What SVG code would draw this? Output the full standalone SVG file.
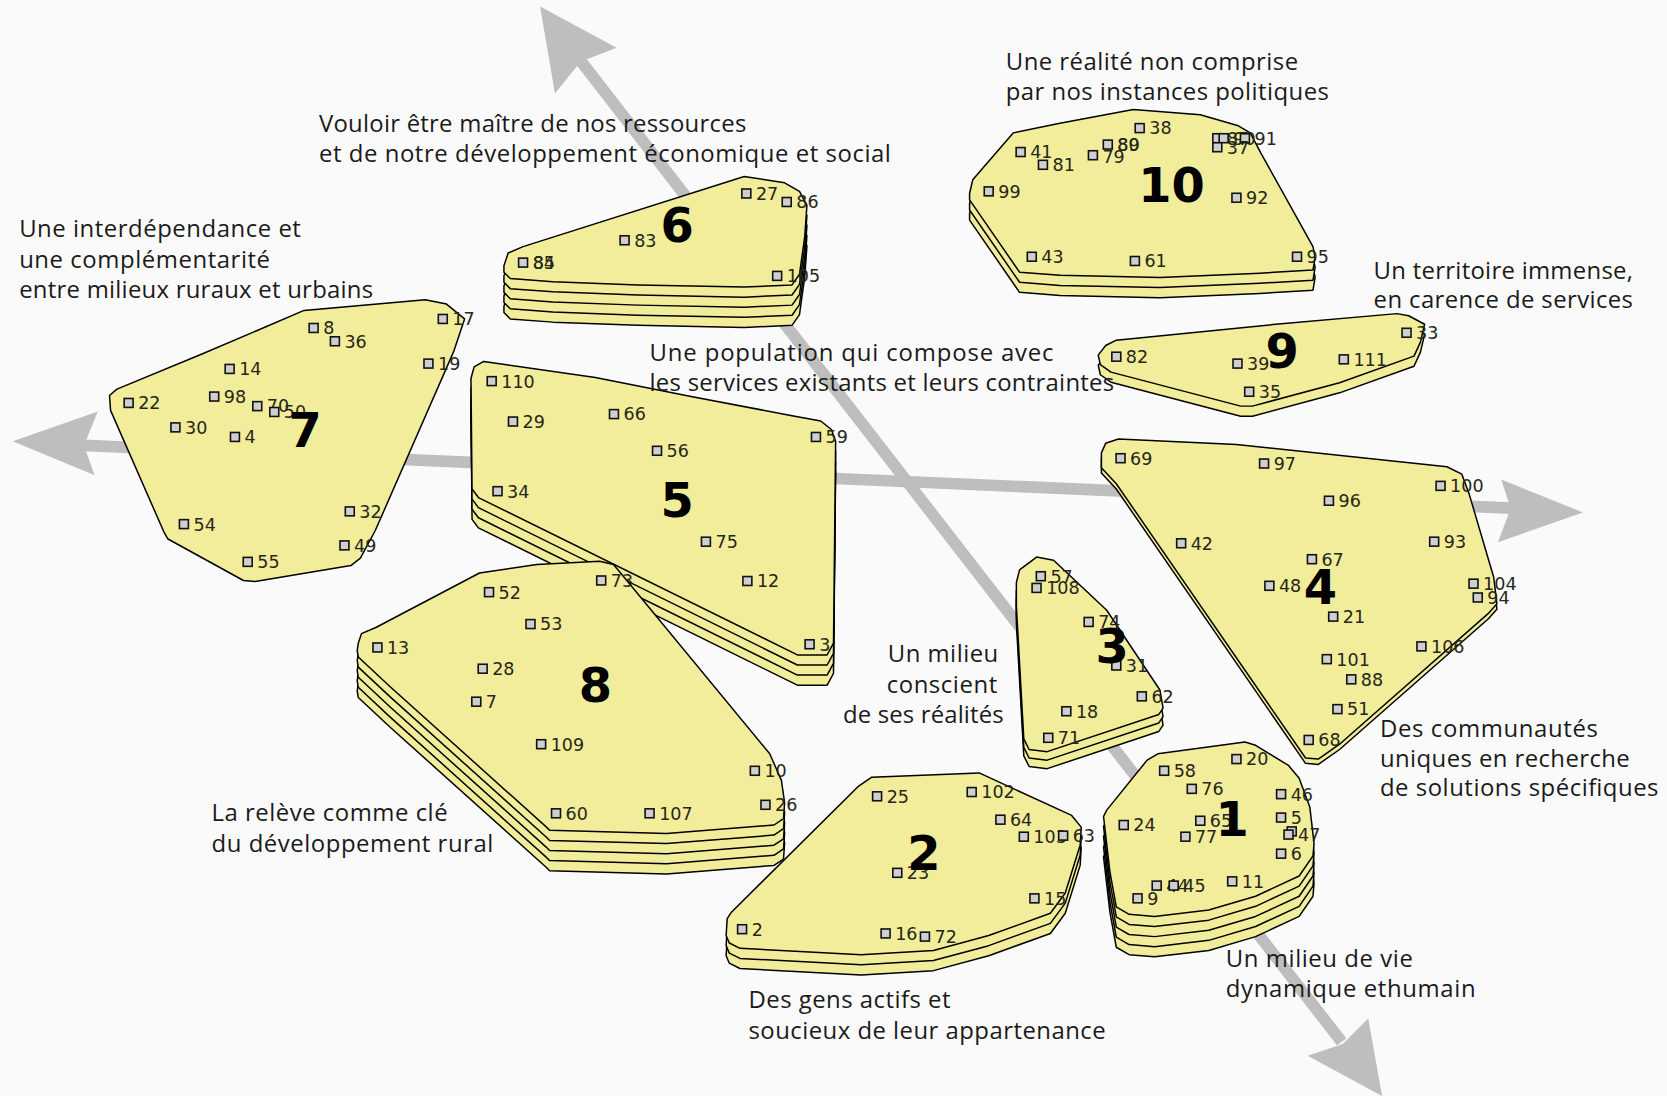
<svg xmlns="http://www.w3.org/2000/svg" xmlns:xlink="http://www.w3.org/1999/xlink" width="1667" height="1096" viewBox="0 0 1667 1096">
<style>
.bg{fill:#fafafa}
.axis{stroke:#bebebe;stroke-width:11;fill:none}
.head{fill:#bebebe}
.poly{fill:#f1ed9b;stroke:#000;stroke-width:1.4;stroke-linejoin:round}
.pt{fill:#cfcfcf;stroke:#111;stroke-width:1.5}
.lbl{font-family:"DejaVu Sans",sans-serif;font-size:16.5px;fill:#262619}
.cn{font-family:"DejaVu Sans",sans-serif;font-weight:bold;font-size:45px;fill:#000;text-anchor:middle}
.ann{font-family:"Open Sans","Noto Sans",sans-serif;font-size:22.5px;fill:#1a1a1a}
</style>
<defs>
<rect id="sq" class="pt" x="-4.2" y="-4.2" width="8.4" height="8.4"/>
<polygon id="p7" points="103,372 110,366 190,333 286,292 400,282 420,286 437,300 427,330 353,499 339,525 330,532 240,547 229,546 158,507 154,500 104,386"/>
<polygon id="p6" points="474,250 478,238 492,232 700,166 738,172 752,180 759,193 757,222 752,258 745,268 700,270 600,268 520,265 480,262 474,256"/>
<polygon id="p10" points="912,182 915,169 953,125 997,116 1066,103 1129,108 1164,118 1176,125 1186,144 1235,232 1237,242 1235,254 1185,257 1091,261 997,259 959,256 912,188"/>
<polygon id="p9" points="1033,334 1040,325 1050,320 1200,305 1314,295 1325,297 1340,305 1336,322 1330,335 1260,360 1178,382 1167,382 1045,350 1035,343"/>
<polygon id="p5" points="443,356 446,345 455,340 560,355 650,373 745,391 772,396 782,404 786,415 784,605 778,616 750,616 450,468 444,460"/>
<polygon id="p8" points="336,612 337,605 340,596 354,590 451,539 505,531 564,528 577,531 583,538 724,709 735,734 738,755 737,770 728,776 627,784 517,781 514,778 367,646 337,618"/>
<polygon id="p4" points="1036,426 1040,417 1052,413 1163,418 1361,439 1375,446 1382,465 1405,543 1408,568 1400,577 1260,700 1240,714 1228,713 1050,455 1036,440"/>
<polygon id="p3" points="956,548 959,536 975,524 991,527 1041,574 1091,649 1094,666 1090,672 985,707 968,705 963,695 956,570"/>
<polygon id="p2" points="683,880 684,864 688,858 807,740 820,731 921,727 1008,767 1017,778 1016,795 1002,840 988,859 930,880 878,894 810,898 696,892 686,887"/>
<polygon id="p1" points="1038,768 1041,762 1079,715 1089,709 1171,698 1181,701 1212,720 1222,732 1232,759 1236,793 1235,805 1222,824 1181,843 1137,856 1086,862 1062,860 1050,853 1044,820"/>
</defs>
<rect class="bg" x="0" y="0" width="1667" height="1096"/>
<g transform="scale(1.06314)">
<g id="connectors">
<line class="axis" x1="79" y1="419" x2="1421" y2="478"/>
<polygon class="head" points="12,415 92,387 79,419 89,447"/>
<polygon class="head" points="1489,482 1412,451 1421,478 1409,510"/>
<line class="axis" x1="546" y1="57" x2="1262" y2="980"/>
<polygon class="head" points="508,6 580,45 546,58 522,88"/>
<polygon class="head" points="1300,1031 1287,958 1263,982 1230,993"/>
</g>

<g id="cluster-7">
<use href="#p7" class="poly"/>
<use href="#sq" x="295" y="308.5"/><text class="lbl" x="304" y="314.5">8</text>
<use href="#sq" x="315" y="321"/><text class="lbl" x="324" y="327">36</text>
<use href="#sq" x="416.5" y="300"/><text class="lbl" x="425.5" y="306">17</text>
<use href="#sq" x="403" y="342"/><text class="lbl" x="412" y="348">19</text>
<use href="#sq" x="216" y="347"/><text class="lbl" x="225" y="353">14</text>
<use href="#sq" x="121" y="379"/><text class="lbl" x="130" y="385">22</text>
<use href="#sq" x="201.5" y="373"/><text class="lbl" x="210.5" y="379">98</text>
<use href="#sq" x="242" y="382"/><text class="lbl" x="251" y="388">70</text>
<use href="#sq" x="258" y="387.5"/><text class="lbl" x="267" y="393.5">50</text>
<use href="#sq" x="165" y="402"/><text class="lbl" x="174" y="408">30</text>
<use href="#sq" x="221" y="411"/><text class="lbl" x="230" y="417">4</text>
<use href="#sq" x="173" y="493"/><text class="lbl" x="182" y="499">54</text>
<use href="#sq" x="329" y="481"/><text class="lbl" x="338" y="487">32</text>
<use href="#sq" x="324" y="513"/><text class="lbl" x="333" y="519">49</text>
<use href="#sq" x="233" y="528.5"/><text class="lbl" x="242" y="534.5">55</text>
<text class="cn" x="287" y="420">7</text>
</g>

<g id="cluster-6">
<use href="#p6" class="poly" y="38"/>
<use href="#p6" class="poly" y="28.5"/>
<use href="#p6" class="poly" y="19"/>
<use href="#p6" class="poly" y="9.5"/>
<use href="#p6" class="poly"/>
<use href="#sq" x="702" y="182"/><text class="lbl" x="711" y="188">27</text>
<use href="#sq" x="740" y="190"/><text class="lbl" x="749" y="196">86</text>
<use href="#sq" x="587.5" y="226"/><text class="lbl" x="596.5" y="232">83</text>
<use href="#sq" x="492" y="247"/><text class="lbl" x="501" y="253">84</text><text class="lbl" x="501" y="253">85</text>
<use href="#sq" x="731" y="259.5"/><text class="lbl" x="740" y="265.5">105</text>
<text class="cn" x="637" y="228">6</text>
</g>

<g id="cluster-10">
<use href="#p10" class="poly" y="19"/>
<use href="#p10" class="poly" y="9.5"/>
<use href="#p10" class="poly"/>
<use href="#sq" x="960" y="143"/><text class="lbl" x="969" y="149">41</text>
<use href="#sq" x="981" y="155"/><text class="lbl" x="990" y="161">81</text>
<use href="#sq" x="1028" y="146"/><text class="lbl" x="1037" y="153">79</text>
<use href="#sq" x="1042" y="136"/><text class="lbl" x="1051" y="142">80</text><text class="lbl" x="1051" y="142">89</text>
<use href="#sq" x="1072" y="120.5"/><text class="lbl" x="1081" y="126.5">38</text>
<use href="#sq" x="1145" y="130"/><text class="lbl" x="1154" y="136">87</text>
<use href="#sq" x="1151" y="130"/><text class="lbl" x="1160" y="136">90</text>
<use href="#sq" x="1171" y="130"/><text class="lbl" x="1180" y="136">91</text>
<use href="#sq" x="1145" y="138.5"/><text class="lbl" x="1154" y="144.5">37</text>
<use href="#sq" x="930" y="180"/><text class="lbl" x="939" y="186">99</text>
<use href="#sq" x="1163" y="186"/><text class="lbl" x="1172" y="192">92</text>
<use href="#sq" x="970.5" y="241.5"/><text class="lbl" x="979.5" y="247.5">43</text>
<use href="#sq" x="1067.5" y="245.5"/><text class="lbl" x="1076.5" y="251.5">61</text>
<use href="#sq" x="1220" y="241.5"/><text class="lbl" x="1229" y="247.5">95</text>
<text class="cn" x="1102" y="190">10</text>
</g>

<g id="cluster-9">
<use href="#p9" class="poly" y="9.5"/>
<use href="#p9" class="poly"/>
<use href="#sq" x="1050" y="335.5"/><text class="lbl" x="1059" y="341.5">82</text>
<use href="#sq" x="1164" y="342"/><text class="lbl" x="1173" y="348">39</text>
<use href="#sq" x="1264" y="338"/><text class="lbl" x="1273" y="344">111</text>
<use href="#sq" x="1323" y="313"/><text class="lbl" x="1332" y="319">33</text>
<use href="#sq" x="1175" y="368.5"/><text class="lbl" x="1184" y="374.5">35</text>
<text class="cn" x="1206" y="346">9</text>
</g>

<g id="cluster-5">
<use href="#p5" class="poly" y="28.5"/>
<use href="#p5" class="poly" y="19"/>
<use href="#p5" class="poly" y="9.5"/>
<use href="#p5" class="poly"/>
<use href="#sq" x="462.5" y="358.5"/><text class="lbl" x="471.5" y="364.5">110</text>
<use href="#sq" x="482.5" y="396.5"/><text class="lbl" x="491.5" y="402.5">29</text>
<use href="#sq" x="577.5" y="389.5"/><text class="lbl" x="586.5" y="395.5">66</text>
<use href="#sq" x="618" y="424"/><text class="lbl" x="627" y="430">56</text>
<use href="#sq" x="767.5" y="411"/><text class="lbl" x="776.5" y="417">59</text>
<use href="#sq" x="468" y="462"/><text class="lbl" x="477" y="468">34</text>
<use href="#sq" x="664" y="509.5"/><text class="lbl" x="673" y="515.5">75</text>
<use href="#sq" x="703" y="546.5"/><text class="lbl" x="712" y="552.5">12</text>
<use href="#sq" x="761.5" y="606"/><text class="lbl" x="770.5" y="612">3</text>
<text class="cn" x="637" y="486">5</text>
</g>

<g id="cluster-8">
<use href="#p8" class="poly" y="38"/>
<use href="#p8" class="poly" y="28.5"/>
<use href="#p8" class="poly" y="19"/>
<use href="#p8" class="poly" y="9.5"/>
<use href="#p8" class="poly"/>
<use href="#sq" x="460" y="557"/><text class="lbl" x="469" y="563">52</text>
<use href="#sq" x="499" y="587"/><text class="lbl" x="508" y="593">53</text>
<use href="#sq" x="355" y="609"/><text class="lbl" x="364" y="615">13</text>
<use href="#sq" x="454" y="629"/><text class="lbl" x="463" y="635">28</text>
<use href="#sq" x="448" y="660"/><text class="lbl" x="457" y="666">7</text>
<use href="#sq" x="509" y="700"/><text class="lbl" x="518" y="706">109</text>
<use href="#sq" x="565.5" y="546"/><text class="lbl" x="574.5" y="552">73</text>
<use href="#sq" x="710" y="725"/><text class="lbl" x="719" y="731">10</text>
<use href="#sq" x="720" y="757"/><text class="lbl" x="729" y="763">26</text>
<use href="#sq" x="523" y="765"/><text class="lbl" x="532" y="771">60</text>
<use href="#sq" x="611" y="765"/><text class="lbl" x="620" y="771">107</text>
<text class="cn" x="560" y="660">8</text>
</g>

<g id="cluster-4">
<use href="#p4" class="poly" y="5"/>
<use href="#p4" class="poly"/>
<use href="#sq" x="1054" y="431"/><text class="lbl" x="1063" y="437">69</text>
<use href="#sq" x="1189" y="436"/><text class="lbl" x="1198" y="442">97</text>
<use href="#sq" x="1250" y="471"/><text class="lbl" x="1259" y="477">96</text>
<use href="#sq" x="1355" y="457"/><text class="lbl" x="1364" y="463">100</text>
<use href="#sq" x="1111" y="511"/><text class="lbl" x="1120" y="517">42</text>
<use href="#sq" x="1349" y="509.5"/><text class="lbl" x="1358" y="515.5">93</text>
<use href="#sq" x="1234" y="526"/><text class="lbl" x="1243" y="532">67</text>
<use href="#sq" x="1194" y="551"/><text class="lbl" x="1203" y="557">48</text>
<use href="#sq" x="1386" y="549"/><text class="lbl" x="1395" y="555">104</text>
<use href="#sq" x="1390" y="562"/><text class="lbl" x="1399" y="568">94</text>
<use href="#sq" x="1254" y="580"/><text class="lbl" x="1263" y="586">21</text>
<use href="#sq" x="1337" y="608"/><text class="lbl" x="1346" y="614">106</text>
<use href="#sq" x="1248" y="620"/><text class="lbl" x="1257" y="626">101</text>
<use href="#sq" x="1271" y="639"/><text class="lbl" x="1280" y="645">88</text>
<use href="#sq" x="1258" y="667"/><text class="lbl" x="1267" y="673">51</text>
<use href="#sq" x="1231" y="696"/><text class="lbl" x="1240" y="702">68</text>
<text class="cn" x="1242" y="568">4</text>
</g>

<g id="cluster-3">
<use href="#p3" class="poly" y="16"/>
<use href="#p3" class="poly" y="8"/>
<use href="#p3" class="poly"/>
<use href="#sq" x="979" y="542"/><text class="lbl" x="988" y="548">57</text>
<use href="#sq" x="975" y="553"/><text class="lbl" x="984" y="559">108</text>
<use href="#sq" x="1024" y="585"/><text class="lbl" x="1033" y="591">74</text>
<use href="#sq" x="1050" y="626"/><text class="lbl" x="1059" y="632">31</text>
<use href="#sq" x="1074" y="655"/><text class="lbl" x="1083" y="661">62</text>
<use href="#sq" x="1003" y="669"/><text class="lbl" x="1012" y="675">18</text>
<use href="#sq" x="986" y="694"/><text class="lbl" x="995" y="700">71</text>
<text class="cn" x="1046" y="624">3</text>
</g>

<g id="cluster-2">
<use href="#p2" class="poly" y="19"/>
<use href="#p2" class="poly" y="9.5"/>
<use href="#p2" class="poly"/>
<use href="#sq" x="825" y="749"/><text class="lbl" x="834" y="755">25</text>
<use href="#sq" x="914" y="745"/><text class="lbl" x="923" y="751">102</text>
<use href="#sq" x="941" y="771"/><text class="lbl" x="950" y="777">64</text>
<use href="#sq" x="963" y="787"/><text class="lbl" x="972" y="793">103</text>
<use href="#sq" x="1000" y="786"/><text class="lbl" x="1009" y="792">63</text>
<use href="#sq" x="844" y="821"/><text class="lbl" x="853" y="827">23</text>
<use href="#sq" x="973" y="845"/><text class="lbl" x="982" y="851">15</text>
<use href="#sq" x="698" y="874"/><text class="lbl" x="707" y="880">2</text>
<use href="#sq" x="833" y="878"/><text class="lbl" x="842" y="884">16</text>
<use href="#sq" x="870" y="881"/><text class="lbl" x="879" y="887">72</text>
<text class="cn" x="869" y="818">2</text>
</g>

<g id="cluster-1">
<use href="#p1" class="poly" y="38"/>
<use href="#p1" class="poly" y="28.5"/>
<use href="#p1" class="poly" y="19"/>
<use href="#p1" class="poly" y="9.5"/>
<use href="#p1" class="poly"/>
<use href="#sq" x="1095" y="725"/><text class="lbl" x="1104" y="731">58</text>
<use href="#sq" x="1163" y="714"/><text class="lbl" x="1172" y="720">20</text>
<use href="#sq" x="1121" y="742"/><text class="lbl" x="1130" y="748">76</text>
<use href="#sq" x="1205" y="747"/><text class="lbl" x="1214" y="753">46</text>
<use href="#sq" x="1057" y="776"/><text class="lbl" x="1066" y="782">24</text>
<use href="#sq" x="1129" y="772"/><text class="lbl" x="1138" y="778">65</text>
<use href="#sq" x="1115" y="787"/><text class="lbl" x="1124" y="793">77</text>
<use href="#sq" x="1205" y="769"/><text class="lbl" x="1214" y="775">5</text>
<use href="#sq" x="1215" y="782"/>
<use href="#sq" x="1212" y="785"/><text class="lbl" x="1221" y="791">47</text>
<use href="#sq" x="1205" y="803"/><text class="lbl" x="1214" y="809">6</text>
<use href="#sq" x="1088" y="833"/><text class="lbl" x="1097" y="839">44</text>
<use href="#sq" x="1104" y="833"/><text class="lbl" x="1113" y="839">45</text>
<use href="#sq" x="1159" y="829"/><text class="lbl" x="1168" y="835">11</text>
<use href="#sq" x="1070" y="845"/><text class="lbl" x="1079" y="851">9</text>
<text class="cn" x="1159" y="786">1</text>
</g>

<g id="annotations">
<text class="ann" x="300" y="124" textLength="402">Vouloir être maître de nos ressources</text>
<text class="ann" x="300" y="152" textLength="538">et de notre développement économique et social</text>
<text class="ann" x="946" y="66" textLength="275">Une réalité non comprise</text>
<text class="ann" x="946" y="94" textLength="304">par nos instances politiques</text>
<text class="ann" x="18" y="223" textLength="265">Une interdépendance et</text>
<text class="ann" x="18" y="252" textLength="236">une complémentarité</text>
<text class="ann" x="18" y="280" textLength="333">entre milieux ruraux et urbains</text>
<text class="ann" x="1292" y="262" textLength="244">Un territoire immense,</text>
<text class="ann" x="1292" y="290" textLength="244">en carence de services</text>
<text class="ann" x="611" y="340" textLength="380">Une population qui compose  avec</text>
<text class="ann" x="611" y="368" textLength="437">les services existants et leurs contraintes</text>
<text class="ann" x="835" y="623" textLength="104">Un milieu</text>
<text class="ann" x="834" y="652" textLength="104">conscient</text>
<text class="ann" x="793" y="680" textLength="151">de ses réalités</text>
<text class="ann" x="1298" y="693" textLength="205">Des communautés</text>
<text class="ann" x="1298" y="721" textLength="235">uniques en recherche</text>
<text class="ann" x="1298" y="749" textLength="262">de solutions spécifiques</text>
<text class="ann" x="199" y="772" textLength="222">La relève comme clé</text>
<text class="ann" x="199" y="801" textLength="265">du développement rural</text>
<text class="ann" x="704" y="948" textLength="190">Des gens actifs et</text>
<text class="ann" x="704" y="977" textLength="336">soucieux de leur appartenance</text>
<text class="ann" x="1153" y="910" textLength="176">Un milieu de vie</text>
<text class="ann" x="1153" y="938" textLength="235">dynamique ethumain</text>
</g>
</g>
</svg>
